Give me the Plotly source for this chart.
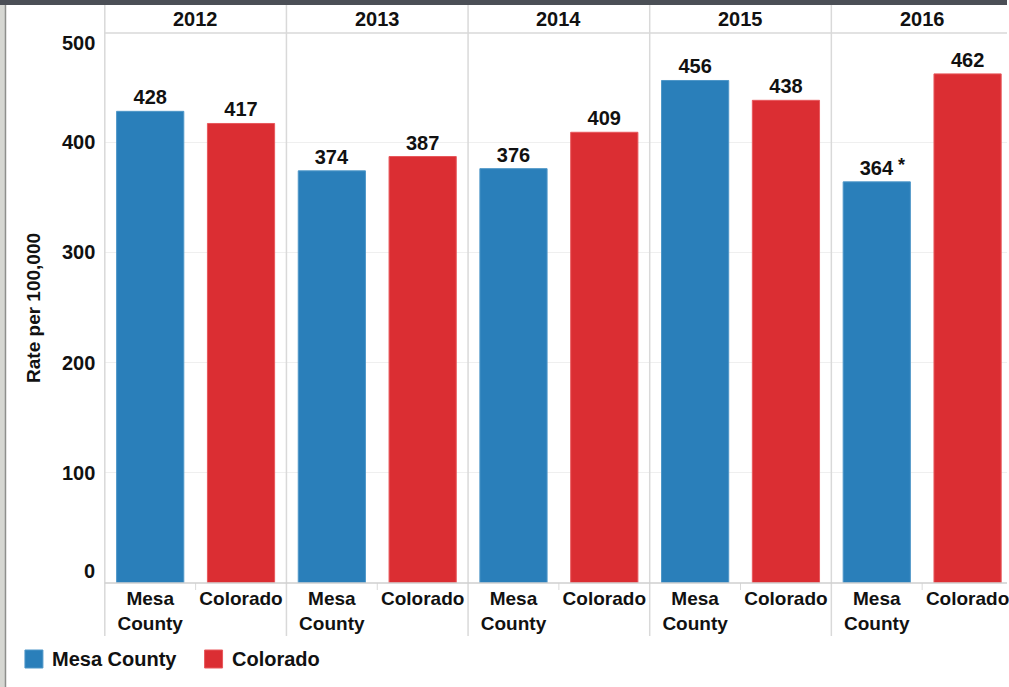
import plotly.graph_objects as go
from plotly.subplots import make_subplots

years = ["2012", "2013", "2014", "2015", "2016"]
regions = ["Mesa County", "Colorado"]
region_ticktext = ["Mesa<br>County", "Colorado"]
mesa = [428, 374, 376, 456, 364]
colorado = [417, 387, 409, 438, 462]
y_ticks = [0, 100, 200, 300, 400, 500]
colors = {"Mesa County": "#2a7fba", "Colorado": "#db2e33"}
line_colors = {"Mesa County": "#4f97c8", "Colorado": "#e8585c"}

W, H = 1009, 687
FONT = "Arial, Liberation Sans, sans-serif"
TXT = "#111111"


def px(x):
    return x / W


def py(y):
    return 1 - y / H


panel_left = 105
panel_w = 182
plot_top = 32
plot_bottom = 583

fig = make_subplots(rows=1, cols=5, shared_yaxes=True, horizontal_spacing=0)

for i, yr in enumerate(years):
    vals = [mesa[i], colorado[i]]
    fig.add_trace(
        go.Bar(
            x=regions,
            y=vals,
            marker=dict(color=[colors[r] for r in regions],
                        line=dict(color=[line_colors[r] for r in regions], width=1)),
            text=[str(v) for v in vals],
            textposition="outside",
            textfont=dict(size=20, color=TXT, family=FONT, weight="bold"),
            constraintext="none",
            cliponaxis=False,
            width=0.74,
            showlegend=False,
            hoverinfo="skip",
        ),
        row=1, col=i + 1,
    )

for i in range(5):
    left = panel_left + panel_w * i
    right = min(left + panel_w, W)
    xr = [-0.5, -0.5 + 2 * (right - left) / panel_w]
    suffix = "" if i == 0 else str(i + 1)
    fig.layout["xaxis" + suffix].update(
        domain=[px(left), px(right)],
        range=xr,
        type="category",
        tickvals=regions,
        ticktext=region_ticktext,
        tickfont=dict(size=19, color=TXT, family=FONT, weight="bold"),
        ticklabelstandoff=2,
        showgrid=False,
        showline=False,
        zeroline=False,
        ticks="",
        fixedrange=True,
    )
    fig.layout["yaxis" + suffix].update(
        domain=[py(plot_bottom), py(plot_top)],
        range=[0, 500],
        tickvals=y_ticks[1:-1],
        showticklabels=False,
        showgrid=True,
        gridcolor="#efefef",
        gridwidth=1,
        zeroline=False,
        showline=False,
        ticks="",
        fixedrange=True,
    )

annotations = []
# y tick labels
for v in y_ticks:
    shift = 0
    if v == 0:
        shift = 12
    elif v == 500:
        shift = -11
    annotations.append(dict(
        x=px(97), xref="paper", y=v, yref="y", xanchor="right", yanchor="middle",
        text=str(v), showarrow=False, yshift=shift,
        font=dict(size=20, color=TXT, family=FONT, weight="bold"),
    ))
# axis title
annotations.append(dict(
    x=px(33), xref="paper", y=py(308), yref="paper", text="Rate per 100,000",
    textangle=-90, showarrow=False, xanchor="center", yanchor="middle",
    font=dict(size=19, color=TXT, family=FONT, weight="bold"),
))
# year headers
for i, yr in enumerate(years):
    cx = panel_left + panel_w * i + panel_w / 2
    annotations.append(dict(
        x=px(cx), xref="paper", y=py(19), yref="paper", text=yr,
        showarrow=False, xanchor="center", yanchor="middle",
        font=dict(size=20, color=TXT, family=FONT, weight="bold"),
    ))
# asterisk note on 2016 Mesa County
annotations.append(dict(
    x="Mesa County", xref="x5", y=mesa[4], yref="y5", text="*",
    showarrow=False, xshift=25, yshift=17,
    font=dict(size=18, color=TXT, family=FONT, weight="bold"),
))
# legend labels
annotations.append(dict(
    x=px(50), xref="paper", y=py(659), yref="paper", text="Mesa County",
    showarrow=False, xanchor="left", yanchor="middle",
    font=dict(size=20, color=TXT, family=FONT, weight="bold"),
))
annotations.append(dict(
    x=px(230), xref="paper", y=py(659), yref="paper", text="Colorado",
    showarrow=False, xanchor="left", yanchor="middle",
    font=dict(size=20, color=TXT, family=FONT, weight="bold"),
))

shapes = []
# frame: top dark bar and left strip
shapes.append(dict(type="rect", xref="paper", yref="paper", x0=0, x1=1, y0=py(5), y1=1,
                   fillcolor="#4b4f56", line=dict(width=0), layer="above"))
shapes.append(dict(type="rect", xref="paper", yref="paper", x0=0, x1=px(5), y0=0, y1=py(5),
                   fillcolor="#d6d7d2", line=dict(width=0), layer="above"))
shapes.append(dict(type="line", xref="paper", yref="paper", x0=px(5.5), x1=px(5.5), y0=0, y1=py(5),
                   line=dict(color="#8e8f8c", width=1.5), layer="above"))
# panel separators
for i in range(5):
    x = panel_left + panel_w * i
    shapes.append(dict(type="line", xref="paper", yref="paper", x0=px(x), x1=px(x),
                       y0=py(636), y1=py(5), line=dict(color="#d9d9d9", width=1.5)))
    cx = x + panel_w / 2
    shapes.append(dict(type="line", xref="paper", yref="paper", x0=px(cx), x1=px(cx),
                       y0=py(590), y1=py(583), line=dict(color="#d9d9d9", width=1)))
# header bottom line and zero line
shapes.append(dict(type="line", xref="paper", yref="paper", x0=px(panel_left), x1=1,
                   y0=py(33), y1=py(33), line=dict(color="#d9d9d9", width=1.5)))
shapes.append(dict(type="line", xref="paper", yref="paper", x0=px(panel_left), x1=1,
                   y0=py(583), y1=py(583), line=dict(color="#cfcfcf", width=1.5), layer="above"))
# legend swatches
shapes.append(dict(type="rect", xref="paper", yref="paper", x0=px(25), x1=px(43),
                   y0=py(668), y1=py(650), fillcolor=colors["Mesa County"],
                   line=dict(color=line_colors["Mesa County"], width=1)))
shapes.append(dict(type="rect", xref="paper", yref="paper", x0=px(205), x1=px(223),
                   y0=py(668), y1=py(650), fillcolor=colors["Colorado"],
                   line=dict(color=line_colors["Colorado"], width=1)))

fig.update_layout(
    width=W, height=H,
    margin=dict(l=0, r=0, t=0, b=0),
    paper_bgcolor="white",
    plot_bgcolor="white",
    bargap=0.26,
    annotations=annotations,
    shapes=shapes,
    showlegend=False,
    font=dict(family=FONT, color=TXT),
)

fig.write_html(
    "out.html",
    config={"displayModeBar": False, "staticPlot": True},
    post_script="document.body.style.margin='0px';document.body.style.overflow='hidden';",
)
